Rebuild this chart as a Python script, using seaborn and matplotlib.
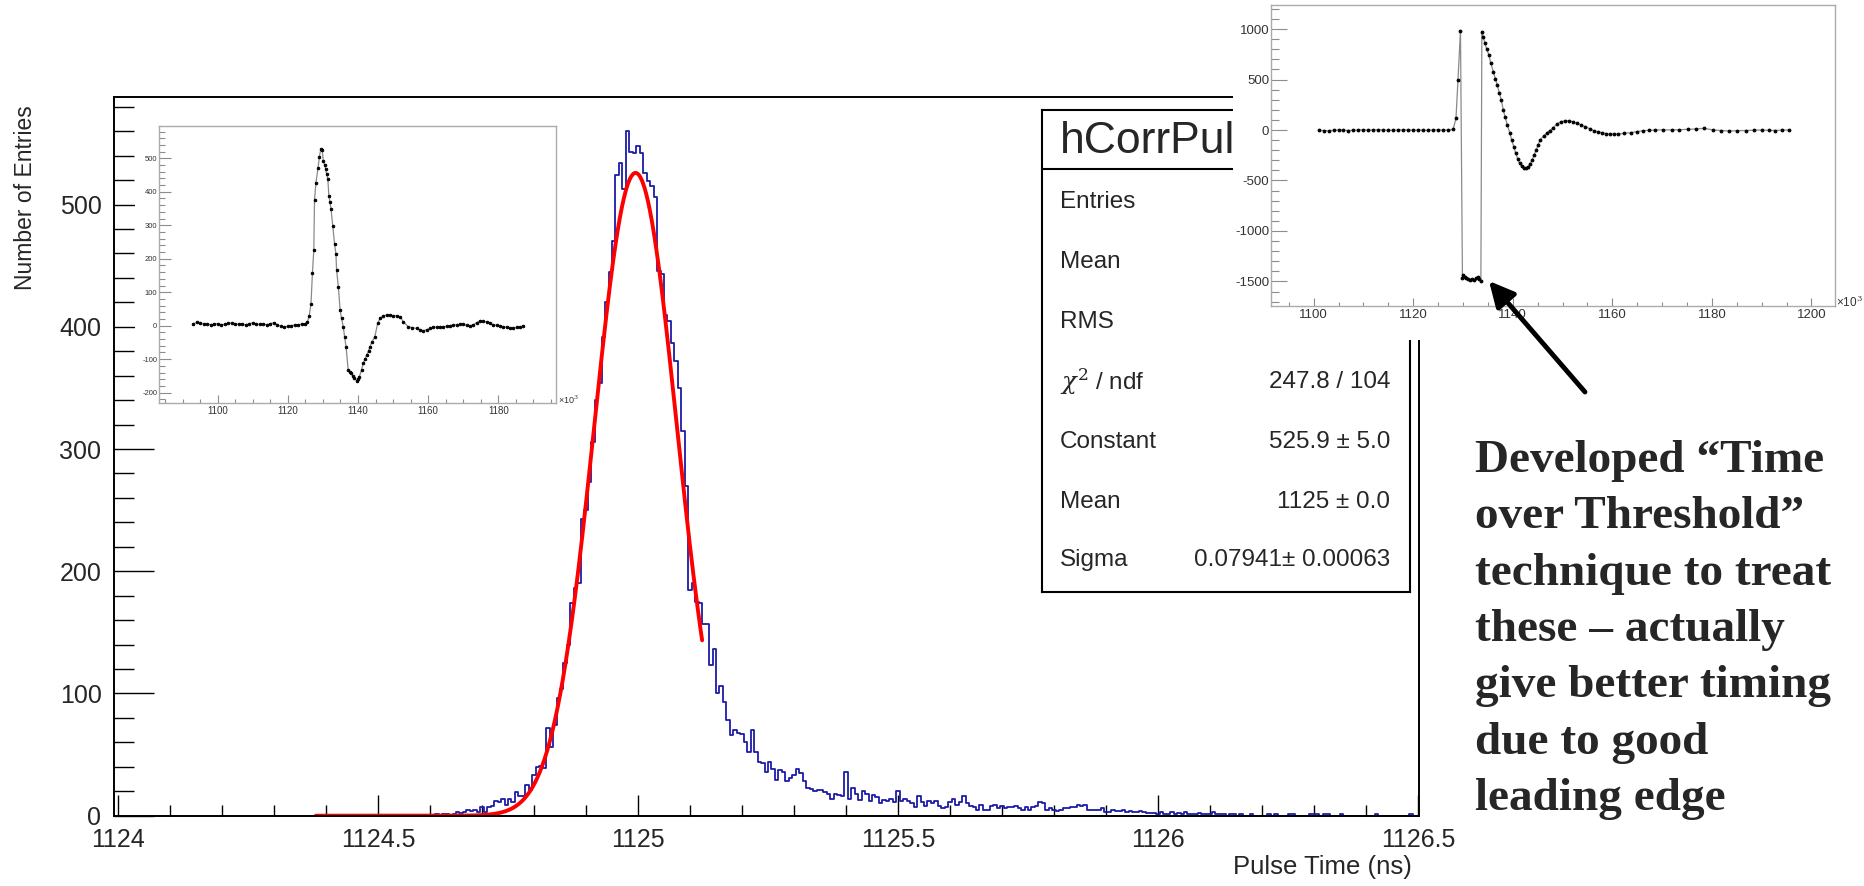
import numpy as np
import pandas as pd
import matplotlib
matplotlib.use("Agg")
import matplotlib.pyplot as plt
from matplotlib.ticker import MultipleLocator, FixedLocator, FuncFormatter
from matplotlib.transforms import Bbox, TransformedBbox
import seaborn as sns

# ---------------- data ----------------
bin_lo = 1124.003          # histogram origin (ns)
bin_width = 1.0 / 150.0    # bin width (ns)
first_bin = 88             # index of first listed bin

counts_rise = [0, 0, 0, 1, 0, 1, 1, 0, 1, 3,
               2, 3, 5, 4, 5, 3, 7, 3, 7, 8,
               12, 11, 14, 9, 14, 11, 19, 16, 16, 25,
               21, 33, 40, 41, 39, 72, 56, 74, 96, 104,
               125, 140, 174, 186, 190, 243, 250, 273, 306]
counts_core = [340, 354, 392, 420, 445, 470, 524, 534, 513, 560,
               543, 542, 548, 542, 526, 519, 515, 506, 446, 443,
               410, 405, 387, 372, 350, 315, 270]
counts_tail = [185, 190, 175, 174, 157, 157, 123, 136, 100, 106,
               93, 78, 66, 70, 68, 67, 60, 52, 70, 52,
               44, 43, 36, 44, 38, 29, 37, 36, 28, 31,
               33, 38, 35, 28, 23, 22, 20, 21, 21, 19,
               18, 14, 18, 17, 16, 36, 14, 23, 18, 13,
               20, 18, 12, 17, 15, 10, 13, 12, 14, 11,
               20, 12, 14, 12, 10, 7, 16]
counts_far = [11, 8, 12, 10, 12, 8, 6, 7, 11, 14, 9, 11,
              16, 10, 8, 7, 5, 9, 5, 5, 8, 9, 6, 8,
              6, 7, 7, 8, 6, 5, 7, 5, 7, 8, 11, 10,
              5, 6, 5, 4, 5, 6, 6, 7, 7, 9, 8, 9,
              5, 5, 5, 5, 6, 3, 3, 5, 4, 4, 5, 3,
              4, 3, 3, 4, 3, 2, 2, 2, 1, 3, 1, 1,
              3, 1, 2, 1, 3, 1, 1, 1, 2, 1, 1, 1,
              3, 1, 1, 1, 0, 1, 1, 0, 1, 0, 0, 1,
              0, 0, 0, 0, 1, 0, 1, 0, 0, 0, 1, 1,
              0, 0, 0, 0, 1, 1, 1, 0, 1, 1, 0, 0,
              0, 1, 0, 0, 0, 0, 0, 0, 0, 0, 0, 1,
              0, 0, 0, 0, 0, 0, 0, 0, 0, 1, 0, 0]

# Gaussian fit parameters (from the stats box)
fit_const = 525.9
fit_mean = 1124.995
fit_sigma = 0.07941
fit_lo, fit_hi = 1124.38, 1125.123

stat_title = "hCorrPul"
stat_labels = ["Entries", "Mean", "RMS", r"$\chi^{2}$ / ndf", "Constant", "Mean", "Sigma"]
stat_values = ["", "", "", "247.8 / 104", "525.9 \u00b1 5.0", "1125 \u00b1 0.0", "0.07941\u00b1 0.00063"]

x_major = [1124, 1124.5, 1125, 1125.5, 1126, 1126.5]
y_major = [0, 100, 200, 300, 400, 500]

# inset 1 waveform (time x10^3, amplitude)
wave1_t = [1093, 1094, 1095, 1096, 1097, 1098, 1099, 1100, 1101, 1102,
           1103, 1104, 1105, 1106, 1107, 1108, 1109, 1110, 1111, 1112,
           1113, 1114, 1115, 1116, 1117, 1118, 1119, 1120, 1121, 1122,
           1123, 1124, 1125, 1125.6, 1126.1, 1126.6, 1127.0, 1127.4, 1127.6, 1128.0,
           1128.6, 1129.0, 1129.4, 1129.8, 1130.1, 1130.5, 1130.8, 1131.1, 1131.4, 1131.7,
           1132.0, 1132.3, 1132.8, 1133.3, 1133.7, 1133.9, 1134.4, 1134.9, 1135.3, 1135.8,
           1136.2, 1136.6, 1137.2, 1137.6, 1138.0, 1138.5, 1139.0, 1139.6, 1140.0, 1140.4,
           1141.0, 1141.5, 1142.0, 1142.5, 1143.0, 1143.4, 1144.0, 1144.8, 1145.6, 1146.3,
           1147.2, 1148.2, 1149.1, 1150.1, 1151.0, 1152.0, 1152.9, 1154.3, 1155.5, 1156.7,
           1157.7, 1158.6, 1159.6, 1160.5, 1161.5, 1162.4, 1163.4, 1164.3, 1165.3, 1166.2,
           1167.2, 1168.1, 1169.1, 1170.0, 1171.0, 1171.9, 1172.9, 1173.8, 1174.8, 1175.7,
           1176.7, 1177.6, 1178.6, 1179.5, 1180.5, 1181.4, 1182.4, 1183.3, 1184.3, 1185.2,
           1186.2, 1186.9]
wave1_v = [5, 10, 7, 5, 6, 3, 5, 6, 3, 4,
           7, 8, 6, 4, 5, 3, 6, 8, 5, 4,
           5, 3, 6, 9, 3, -2, -4, -2, 0, 2,
           3, 5, 6, 12, 30, 66, 156, 226, 376, 426,
           471, 505, 528, 524, 493, 480, 468, 452, 438, 388,
           370, 349, 299, 245, 215, 166, 116, 47, 22, -3,
           -35, -63, -132, -138, -142, -150, -157, -164, -160, -152,
           -132, -112, -100, -87, -75, -63, -48, -33, 7, 22,
           29, 32, 31, 30, 29, 27, 12, -3, -6, -8,
           -12, -15, -12, -8, -5, -4, -3, -3, -2, 0,
           2, 3, 4, 4, 1, -1, 3, 9, 15, 13,
           11, 8, 2, 1, 0, -3, -5, -8, -7, -5,
           -4, -2]

# inset 2 waveform (saturated pulse)
wave2_t = [1101, 1102, 1103, 1104, 1105, 1106, 1107, 1108, 1109, 1110,
           1111, 1112, 1113, 1114, 1115, 1116, 1117, 1118, 1119, 1120,
           1121, 1122, 1123, 1124, 1125, 1126, 1127, 1128, 1128.6, 1129.0,
           1129.5, 1129.9, 1130.0, 1130.4, 1130.7, 1131.1, 1131.5, 1131.9, 1132.3, 1132.7,
           1133.0, 1133.3, 1133.6, 1133.8, 1134.1, 1134.4, 1134.8, 1135.2, 1135.6, 1136.1,
           1136.5, 1136.9, 1137.3, 1137.7, 1138.1, 1138.5, 1138.9, 1139.4, 1139.8, 1140.2,
           1140.6, 1141.0, 1141.4, 1141.8, 1142.2, 1142.6, 1143.1, 1143.5, 1143.9, 1144.3,
           1144.7, 1145.1, 1145.5, 1146.2, 1146.8, 1147.4, 1148.0, 1148.8, 1149.7, 1150.5,
           1151.3, 1152.2, 1153.0, 1153.8, 1154.6, 1155.5, 1156.3, 1157.1, 1157.9, 1158.8,
           1159.6, 1160.4, 1161.2, 1162.4, 1163.7, 1165.0, 1166.2, 1167.4, 1168.6, 1170.2,
           1171.9, 1173.5, 1175.2, 1176.8, 1178.5, 1180.2, 1181.8, 1183.5, 1185.1, 1186.8,
           1188.4, 1190.1, 1191.4, 1192.6, 1194.0, 1195.5]
wave2_v = [-3, -5, -8, -3, 0, -2, -5, -3, 0, 2,
           -2, 0, 3, 0, -3, -2, 0, 2, 0, -2,
           0, -3, -2, 0, 2, -2, 0, 5, 115, 495,
           983, -1470, -1436, -1455, -1470, -1480, -1485, -1480, -1485, -1470,
           -1460, -1480, -1500, 974, 920, 858, 800, 743, 660, 578,
           510, 446, 370, 297, 198, 125, 50, -25, -99, -165,
           -231, -285, -330, -360, -380, -378, -363, -335, -297, -250,
           -198, -150, -99, -60, -33, -5, 17, 55, 83, 90,
           92, 80, 66, 50, 33, 12, -7, -18, -26, -36,
           -43, -42, -40, -33, -26, -15, -7, -3, 0, 2,
           0, 3, 7, 10, 17, 0, -5, -10, -7, -5,
           -2, 0, -3, -5, -2, 0]

note_lines = ["Developed \u201cTime", "over Threshold\u201d", "technique to treat",
              "these \u2013 actually", "give better timing", "due to good", "leading edge"]

# ---------------- figure ----------------
sns.set_style("white")
plt.rcParams['font.family'] = ['Liberation Sans', 'DejaVu Sans']
plt.rcParams['mathtext.fontset'] = 'dejavuserif'

W, H = 1864, 886
fig = plt.figure(figsize=(W / 100, H / 100), dpi=100)
fig.patch.set_facecolor('white')


def fr(x0, y0, x1, y1):
    return [x0 / W, 1 - y1 / H, (x1 - x0) / W, (y1 - y0) / H]


ax = fig.add_axes(fr(114, 97, 1418.7, 815.7))

counts = np.array(counts_rise + counts_core + counts_tail + counts_far, dtype=float)
n_bins = len(counts)
edge0 = bin_lo + first_bin * bin_width
centers = edge0 + (np.arange(n_bins) + 0.5) * bin_width
hist_df = pd.DataFrame({"t": centers, "n": counts})
sns.histplot(data=hist_df, x="t", weights="n", bins=n_bins,
             binrange=(edge0, edge0 + n_bins * bin_width), element="step",
             fill=False, color="#1c1ca8", linewidth=1.3, ax=ax)

xf = np.linspace(fit_lo, fit_hi, 600)
yf = fit_const * np.exp(-0.5 * ((xf - fit_mean) / fit_sigma) ** 2)
sns.lineplot(x=xf, y=yf, color="#ff0000", linewidth=2.8, estimator=None, sort=False, ax=ax)

ax.set_xlim(1123.992, 1126.501)
ax.set_ylim(0, 588)
ax.set_xlabel("")
ax.set_ylabel("")
ax.xaxis.set_major_locator(FixedLocator(x_major))
ax.xaxis.set_minor_locator(MultipleLocator(0.1))
ax.yaxis.set_major_locator(FixedLocator(y_major))
ax.yaxis.set_minor_locator(MultipleLocator(20))
ax.xaxis.set_major_formatter(FuncFormatter(lambda v, p: f"{v:g}"))
ax.tick_params(which='both', direction='in', color='black', width=1.0, top=False, right=False,
               bottom=True, left=True)
ax.tick_params(axis='x', which='major', length=15, labelsize=18, pad=9)
ax.tick_params(axis='x', which='minor', length=8)
ax.tick_params(axis='y', which='major', length=29, labelsize=18, pad=9)
ax.tick_params(axis='y', which='minor', length=14.5)
for s in ax.spines.values():
    s.set_visible(True)
    s.set_color('black')
    s.set_linewidth(1.4)

fig.text(26 / W, 1 - 105 / H, "Number of Entries", rotation=90, ha='center', va='top', fontsize=16.5)
fig.text(1412 / W, 1 - 867 / H, "Pulse Time (ns)", ha='right', va='center', fontsize=18.5)


def blank_pad(rect):
    p = fig.add_axes(rect)
    p.set_facecolor('white')
    p.set_xticks([])
    p.set_yticks([])
    for s in p.spines.values():
        s.set_visible(False)
    return p


def style_inset(a, xlim, ylim, xmaj, xmin, ymaj, ymin, xfs, yfs, xlen, ylen):
    a.set_facecolor('white')
    a.set_xlim(*xlim)
    a.set_ylim(*ylim)
    a.set_xlabel("")
    a.set_ylabel("")
    a.xaxis.set_major_locator(MultipleLocator(xmaj))
    a.xaxis.set_minor_locator(MultipleLocator(xmin))
    a.yaxis.set_major_locator(MultipleLocator(ymaj))
    a.yaxis.set_minor_locator(MultipleLocator(ymin))
    a.xaxis.set_major_formatter(FuncFormatter(lambda v, p: f"{v:g}"))
    a.yaxis.set_major_formatter(FuncFormatter(lambda v, p: f"{v:g}"))
    a.tick_params(which='both', direction='in', color='#8c8c8c', width=0.8, top=False, right=False,
                  bottom=True, left=True, labelcolor='#333333')
    a.tick_params(axis='x', which='major', length=xlen, labelsize=xfs, pad=2)
    a.tick_params(axis='x', which='minor', length=xlen * 0.5)
    a.tick_params(axis='y', which='major', length=ylen, labelsize=yfs, pad=1.5)
    a.tick_params(axis='y', which='minor', length=ylen * 0.5)
    for s in a.spines.values():
        s.set_visible(True)
        s.set_color('#ababab')
        s.set_linewidth(1.0)


# left inset (normal pulse)
blank_pad(fr(135, 110, 575, 425))
in1 = fig.add_axes(fr(159.3, 125.7, 556, 403.3))
sns.lineplot(x=wave1_t, y=wave1_v, estimator=None, sort=False, color='#8a8a8a', linewidth=0.9,
             marker='o', markersize=1.8, markerfacecolor='black', markeredgecolor='black', ax=in1)
style_inset(in1, (1083.35, 1196.45), (-231.8, 597.4), 20, 5, 100, 20, 7, 5.5, 5.8, 8.6)
fig.text(558 / W, 1 - 400 / H, "\u00d710$^{3}$", fontsize=6.5, color='#333333', ha='left', va='center')

# stats box
box = fig.add_axes(fr(1041.7, 110, 1410, 591.7))
box.set_facecolor('white')
box.set_xticks([])
box.set_yticks([])
box.set_xlim(0, 1)
box.set_ylim(0, 1)
for s in box.spines.values():
    s.set_visible(True)
    s.set_color('black')
    s.set_linewidth(1.5)
box.axhline(0.8775, color='black', linewidth=1.5)
title_txt = box.text(0.0497, 0.9342, stat_title, fontsize=32, ha='left', va='center')
title_txt.set_clip_box(TransformedBbox(Bbox([[0, 0], [1233 / W, 1]]), fig.transFigure))
title_txt.set_clip_on(True)
row_y = [0.8096, 0.6851, 0.5605, 0.4360, 0.3114, 0.1868, 0.0658]
for lab, val, yy in zip(stat_labels, stat_values, row_y):
    box.text(0.0497, yy, lab, fontsize=17.5, ha='left', va='center')
    if val:
        box.text(0.9457, yy, val, fontsize=17.5, ha='right', va='center')

# right inset (saturated pulse)
blank_pad(fr(1233, 0, 1864, 340))
in2 = fig.add_axes(fr(1271.3, 5, 1834.8, 306))
sns.lineplot(x=wave2_t, y=wave2_v, estimator=None, sort=False, color='#8a8a8a', linewidth=0.9,
             marker='o', markersize=2.0, markerfacecolor='black', markeredgecolor='black', ax=in2)
style_inset(in2, (1091.5, 1204.7), (-1743, 1238), 20, 5, 500, 100, 9.5, 9.5, 5.8, 11.5)
fig.text(1836 / W, 1 - 302 / H, "\u00d710$^{3}$", fontsize=8.5, color='#333333', ha='left', va='center')

# overlay: arrow + annotation text
ov = fig.add_axes([0, 0, 1, 1])
ov.set_xlim(0, W)
ov.set_ylim(H, 0)
ov.axis('off')
ov.annotate("", xy=(1489, 281), xytext=(1585, 392),
            arrowprops=dict(arrowstyle='-|>', color='black', lw=3.5, mutation_scale=38,
                            shrinkA=0, shrinkB=0))
for i, line in enumerate(note_lines):
    ov.text(1475, 461 + i * 56.3, line, fontsize=34, fontweight='bold',
            family=['Liberation Serif', 'DejaVu Serif'], ha='left', va='center')

fig.savefig("out.png", dpi=100, facecolor='white')
